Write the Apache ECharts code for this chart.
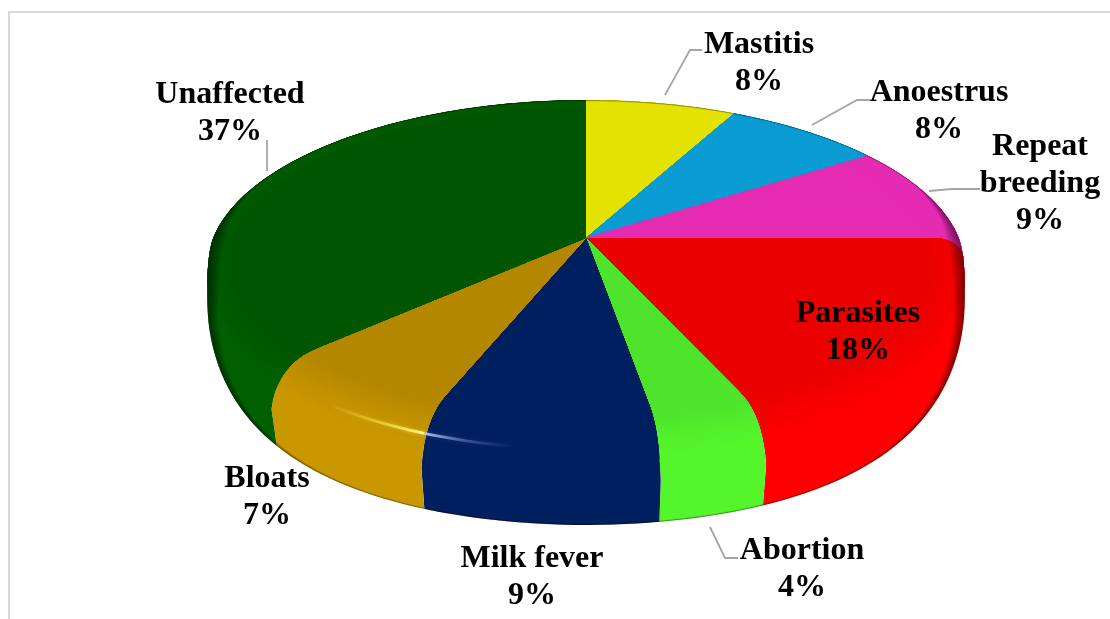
<!DOCTYPE html>
<html>
<head>
<meta charset="utf-8">
<style>
    html, body { margin: 0; padding: 0; background: #fff; }
    #main { width: 1110px; height: 619px; }
</style>
</head>
<body>
<div id="main"></div>
<script src="https://cdn.jsdelivr.net/npm/echarts@6/dist/echarts.min.js"></script>
<script>
const sliceNames = ['Mastitis', 'Anoestrus', 'Repeat\nbreeding', 'Parasites', 'Abortion', 'Milk fever', 'Bloats', 'Unaffected'];
// shares measured from the slice edges, the printed labels are rounded
const sliceShares = [7.6, 8.0, 9.4, 18.49, 3.91, 8.5, 7.1, 37.0];
const percentLabels = ['8%', '8%', '9%', '18%', '4%', '9%', '7%', '37%'];

const faceColors = ['#E3E200', '#0A9BD2', '#E52BB2', '#EB0000', '#4DE42B', '#001F5E', '#B58700', '#005500'];
const rimColors = ['#E3E200', '#0A9BD2', '#E52BB2', '#FF0000', '#55F52C', '#001F5F', '#C99700', '#006000'];

const labelCenters = [[759, 63], [939, 111], [1040, 184], [858, 332], [802, 569], [532, 577], [267, 497], [230, 113]];
const leaderLines = [
    [[665, 95], [690, 50], [702, 50]],
    [[812, 125], [857, 100], [870, 100]],
    [[929, 191], [952, 189], [980, 189]],
    null,
    [[710, 527], [725, 558], [738, 558]],
    null,
    null,
    [[267, 140], [267, 171]]
];

const chart = echarts.init(document.getElementById('main'));

// perspective disc
const apex = [586, 238];
const radiusX = 373;
const radiusY = 162.3;
const tilt = 0.176;
const depth = 90;
const RAD = Math.PI / 180;

const total = sliceShares.reduce((a, b) => a + b, 0);
function sliceAngles(i) {
    let before = 0;
    for (let k = 0; k < i; k++) before += sliceShares[k];
    return [before / total * 360, (before + sliceShares[i]) / total * 360];
}

function topRim(deg) {
    const w = 1 + tilt * Math.cos(deg * RAD);
    return [
        apex[0] + radiusX * Math.sin(deg * RAD) / w,
        apex[1] - radiusY * Math.cos(deg * RAD) / w
    ];
}

function wallHeight(deg) {
    const c = Math.min(1, 0.04 - Math.cos(deg * RAD));
    if (c <= 0) return 0;
    const t = Math.min(1, c / 0.3);
    return depth * Math.sin(c * Math.PI / 2) * t * t * (3 - 2 * t);
}

function onWall(deg, s) {
    const p = topRim(deg);
    return [p[0], p[1] + wallHeight(deg) * s];
}

function mix(a, b, t) {
    return [a[0] + (b[0] - a[0]) * t, a[1] + (b[1] - a[1]) * t];
}

// level 0 is the flat face just before the bevel, level 1 is the end of the bevel
function bevelLevel(deg, u) {
    if (u < 0.5) return mix(apex, topRim(deg), 0.92 + 0.08 * u * 2);
    return onWall(deg, (u - 0.5) * 2 * 0.3);
}

// an edge lying level with the centre has no wall to drop on, it curls along the rim instead
function edgeEnd(deg) {
    return Math.abs(Math.cos(deg * RAD)) < 0.15 ? deg + 5 : deg;
}

function edgePath(deg) {
    const pts = [apex];
    const corner = topRim(deg);
    const end = edgeEnd(deg);
    const from = mix(apex, corner, end === deg ? 0.87 : 0.93);
    const to = onWall(end, end === deg ? 0.55 : 1);
    // the rounded corner bulges a little outwards before the wall drops
    to[0] += Math.sin(deg * RAD) * 8 * wallHeight(end) / depth;
    for (let t = 0; t <= 1.001; t += 0.1) {
        pts.push(mix(mix(from, corner, t), mix(corner, to, t), t));
    }
    pts.push(onWall(end, 1));
    return pts;
}

function slicePolygon(a0, a1) {
    const start = edgeEnd(a0);
    const stop = edgeEnd(a1);
    let pts = edgePath(a0);
    for (let d = start; d < stop; d += 1.5) pts.push(onWall(d, 1));
    pts.push(onWall(stop, 1));
    return pts.concat(edgePath(a1).reverse());
}

function renderSlice(params, api) {
    const i = params.dataIndex;
    const angles = sliceAngles(i);
    const outline = slicePolygon(angles[0], angles[1]);
    const children = [{
        type: 'polygon',
        shape: { points: outline },
        style: { fill: rimColors[i], stroke: rimColors[i], lineWidth: 0.6 }
    }];
    const steps = 10;
    for (let n = steps; n >= 0; n--) {
        const u = n / steps;
        const pts = [apex];
        for (let d = angles[0] - 8; d <= angles[1] + 8; d += 1.5) pts.push(bevelLevel(d, u));
        children.push({
            type: 'polygon',
            shape: { points: pts },
            style: { fill: echarts.color.lerp(u, [faceColors[i], rimColors[i]]) }
        });
    }
    return {
        type: 'group',
        children: [{
            type: 'group',
            clipPath: { type: 'polygon', shape: { points: outline } },
            children: children
        }]
    };
}

// dark soft edge, wider on the two front sides of the disc
function edgeWidth(deg) {
    const c = -Math.cos(deg * RAD);
    const side = Math.pow(Math.abs(Math.sin(deg * RAD)), 6);
    return 1.4 + 11 * side * Math.max(0, Math.min(1, 1 + c * 3));
}

function streak(a0, a1, stops, glow) {
    const pts = [];
    const dir = a0 < a1 ? 1 : -1;
    for (let d = a0; dir * (a1 - d) > 0; d += dir) pts.push(onWall(d, 0.16));
    pts.push(onWall(a1, 0.16));
    return {
        type: 'polyline',
        shape: { points: pts, smooth: false },
        style: {
            fill: 'none',
            lineWidth: 2.8,
            shadowBlur: 4,
            shadowColor: glow,
            stroke: {
                type: 'linear',
                x: pts[0][0],
                y: pts[0][1],
                x2: pts[pts.length - 1][0],
                y2: pts[pts.length - 1][1],
                global: true,
                colorStops: stops
            }
        }
    };
}

function renderShade() {
    const children = [];
    const layers = 8;
    for (let k = 1; k <= layers; k++) {
        const outer = [];
        const inner = [];
        for (let d = 0; d <= 360; d += 1.5) {
            const p = onWall(d, 1);
            const len = Math.hypot(apex[0] - p[0], apex[1] - p[1]);
            const inset = edgeWidth(d) * k / layers;
            outer.push(p);
            inner.push(mix(p, apex, inset / len));
        }
        children.push({
            type: 'polygon',
            shape: { points: outer.concat(inner.reverse()) },
            style: { fill: 'rgba(0,0,0,0.07)' }
        });
    }
    const bend = sliceAngles(6)[0];
    children.push(streak(bend + 15, bend, [
        { offset: 0, color: 'rgba(255,225,80,0)' },
        { offset: 0.55, color: 'rgba(255,228,80,0.55)' },
        { offset: 1, color: 'rgba(255,248,130,1)' }
    ], 'rgba(255,230,90,0.5)'));
    children.push(streak(bend, bend - 12, [
        { offset: 0, color: 'rgba(190,205,245,0.9)' },
        { offset: 0.5, color: 'rgba(120,140,210,0.4)' },
        { offset: 1, color: 'rgba(100,120,200,0)' }
    ], 'rgba(120,140,210,0.35)'));
    return { type: 'group', children: children };
}

function renderLabel(params) {
    const i = params.dataIndex;
    const children = [{
        type: 'text',
        style: {
            text: sliceNames[i] + '\n' + percentLabels[i],
            x: labelCenters[i][0],
            y: labelCenters[i][1],
            align: 'center',
            verticalAlign: 'middle',
            font: 'bold 32px "Liberation Serif"',
            lineHeight: 37,
            fill: '#000'
        }
    }];
    if (leaderLines[i]) {
        children.push({
            type: 'polyline',
            shape: { points: leaderLines[i] },
            style: { fill: 'none', stroke: '#A6A6A6', lineWidth: 1.8 }
        });
    }
    return { type: 'group', children: children };
}

let option = {
    animation: false,
    backgroundColor: '#fff',
    graphic: [{
        type: 'polyline',
        shape: { points: [[9, 619], [9, 12], [1110, 12]] },
        style: { fill: 'none', stroke: '#D9D9D9', lineWidth: 2 }
    }],
    series: [
        { type: 'custom', coordinateSystem: 'none', renderItem: renderSlice, data: sliceShares },
        { type: 'custom', coordinateSystem: 'none', renderItem: renderShade, data: [total] },
        { type: 'custom', coordinateSystem: 'none', renderItem: renderLabel, data: sliceShares }
    ]
};

chart.setOption(option);
</script>
</body>
</html>
